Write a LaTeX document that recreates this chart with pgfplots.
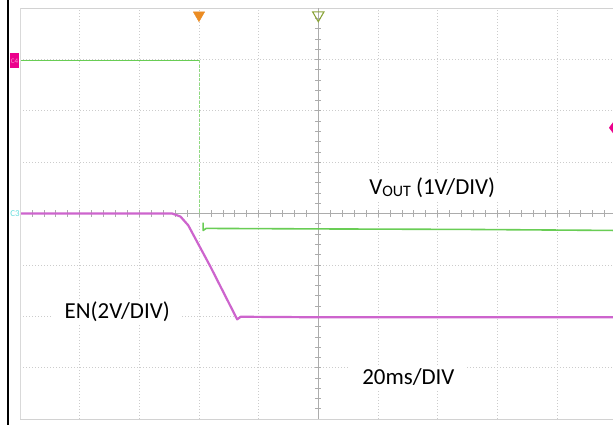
\documentclass[border=0pt]{standalone}
\usepackage{pgfplots}
\pgfplotsset{compat=1.18}
\usepackage{fontspec}
\setmainfont{Carlito}
\definecolor{vgreen}{RGB}{105,205,85}
\definecolor{enmag}{RGB}{205,100,205}
\definecolor{trigor}{RGB}{235,140,35}
\definecolor{olivetri}{RGB}{140,165,60}
\begin{document}
\begin{tikzpicture}
\clip (-20bp,-6bp) rectangle (593bp,419bp);
\fill[white] (-20bp,-6bp) rectangle (593bp,419bp);
\fill[black] (-12.6bp,-6bp) rectangle (-11.3bp,419bp);
\fill[gray!35] (0,-0.4bp) rectangle (593bp,0.4bp);
\fill[gray!35] (0,410.6bp) rectangle (593bp,411.4bp);
\node[fill=magenta, text=magenta!40!white, font=\fontsize{7}{7}\selectfont,
  inner sep=0.5bp, minimum width=9bp, minimum height=15bp] at (-5.5bp,358bp) {C4};
\node[text=teal!45!cyan!60, font=\fontsize{9}{9}\selectfont, inner sep=0.5bp]
  at (-5bp,205.5bp) {C3};
\begin{axis}[
  at={(0,0)}, anchor=south west,
  scale only axis, width=593bp, height=411bp,
  xmin=-5, xmax=4.94, ymin=-4, ymax=4,
  hide axis,
]
% grid
\pgfplotsinvokeforeach{-4,-3,-2,-1,1,2,3,4}{
  \draw[gray!40, line width=0.6bp, dash pattern=on 1bp off 2bp] (axis cs:#1,-4) -- (axis cs:#1,4);
}
\pgfplotsinvokeforeach{-3,-2,-1,1,2,3}{
  \draw[gray!40, line width=0.6bp, dash pattern=on 1bp off 2bp] (axis cs:-5,#1) -- (axis cs:4.94,#1);
}
% crosshair
\draw[gray!65, line width=0.6bp] (axis cs:-5,0) -- (axis cs:4.94,0);
\draw[gray!65, line width=0.6bp] (axis cs:0,-4) -- (axis cs:0,4);
\pgfplotsinvokeforeach{-4.8,-4.6,...,4.8}{
  \draw[gray!65, line width=0.6bp] (axis cs:#1,-0.06) -- (axis cs:#1,0.06);
}
\pgfplotsinvokeforeach{-3.8,-3.6,...,3.8}{
  \draw[gray!65, line width=0.6bp] (axis cs:-0.05,#1) -- (axis cs:0.05,#1);
}
% EN trace
\addplot[enmag, line width=2.2bp, line join=round] table {
x y
-5 0.0
-3.5 0.0
-2.45 0.0
-2.31 -0.06
-2.18 -0.23
-1.81 -1.03
-1.36 -2.06
-1.30 -2.01
0 -2.02
2.5 -2.02
4.94 -2.02
};
% VOUT trace
\addplot[vgreen, line width=1.8bp] coordinates {
  (-5,2.98) (-3.5,2.98) (-2.0,2.98)
};
\addplot[vgreen!75, line width=0.9bp, dash pattern=on 3bp off 1.5bp] coordinates {
  (-2.0,2.98) (-2.0,0.0)
};
\addplot[vgreen, line width=1.6bp, line join=round] coordinates {
  (-1.93,-0.18) (-1.93,-0.33) (-1.88,-0.29) (0,-0.30) (2.5,-0.31) (4.94,-0.33)
};
% trigger markers
\addplot[only marks, mark=triangle*, mark size=6.5bp,
  mark options={rotate=180, fill=trigor, draw=trigor}] coordinates {(-2.0,3.86)};
\addplot[only marks, mark=triangle, mark size=6.5bp,
  mark options={rotate=180, fill=green!15!yellow!25, draw=olivetri, line width=1.1bp}] coordinates {(0,3.86)};
\addplot[only marks, mark=diamond*, mark size=5bp,
  mark options={fill=magenta, draw=magenta}] coordinates {(4.94,1.67)};
% labels
\node[fill=white, inner sep=3bp, font=\fontsize{23}{27}\selectfont]
  at (axis cs:1.91,0.50) {V\raisebox{-1.6bp}{\fontsize{16}{18}\selectfont OUT} (1V/DIV)};
\node[fill=white, inner xsep=12bp, inner ysep=3bp, font=\fontsize{23}{27}\selectfont]
  at (axis cs:-3.37,-1.91) {EN(2V/DIV)};
\node[fill=white, inner xsep=12bp, inner ysep=3bp, font=\fontsize{23}{27}\selectfont]
  at (axis cs:1.51,-3.19) {20ms/DIV};
\end{axis}
% cover the left edge strip and redraw the light border
\fill[white] (-1.5bp,0.5bp) rectangle (2bp,200bp);
\fill[gray!30] (-0.4bp,0bp) rectangle (0.4bp,411bp);
\end{tikzpicture}
\end{document}
